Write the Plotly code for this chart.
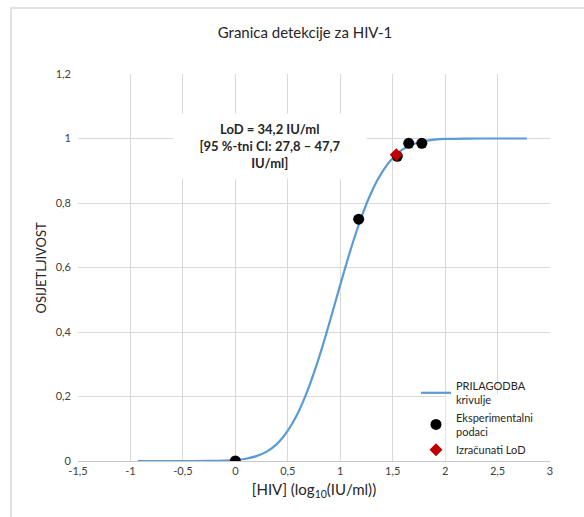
import plotly.graph_objects as go

# Fitted curve
curve_x = [-0.93, -0.5, -0.25, -0.1, 0.0, 0.1, 0.2, 0.3, 0.4, 0.45, 0.5, 0.55, 0.6, 0.65, 0.7,
           0.75, 0.8, 0.85, 0.9, 0.95, 1.0, 1.05, 1.1, 1.15, 1.2, 1.25, 1.3, 1.35, 1.4, 1.45,
           1.5, 1.55, 1.6, 1.65, 1.7, 1.8, 1.9, 2.0, 2.2, 2.5, 2.78]
curve_y = [0.0, 0.0, 0.0003, 0.0012, 0.003, 0.007, 0.015, 0.029, 0.054, 0.072, 0.094, 0.120,
           0.151, 0.187, 0.228, 0.274, 0.323, 0.376, 0.432, 0.489, 0.546, 0.602, 0.656, 0.707,
           0.754, 0.797, 0.835, 0.868, 0.896, 0.920, 0.939, 0.955, 0.967, 0.976, 0.983, 0.992,
           0.9965, 0.9986, 0.9998, 1.0, 1.0]

# Experimental data
exp_x = [0.0, 1.176, 1.544, 1.653, 1.778]
exp_y = [0.0, 0.75, 0.945, 0.985, 0.985]

# Calculated LoD
lod_x = [1.534]
lod_y = [0.95]

x_ticks = [-1.5, -1, -0.5, 0, 0.5, 1, 1.5, 2, 2.5, 3]
x_ticktext = ["-1,5", "-1", "-0,5", "0", "0,5", "1", "1,5", "2", "2,5", "3"]
y_ticks = [0, 0.2, 0.4, 0.6, 0.8, 1.0, 1.2]
y_ticktext = ["0", "0,2", "0,4", "0,6", "0,8", "1", "1,2"]

FONT = "Lato"
GRID = "#D9D9D9"

fig = go.Figure()
fig.add_trace(go.Scatter(x=curve_x, y=curve_y, mode="lines",
                         line=dict(color="#5B9BD5", width=2.2, shape="spline", smoothing=0.8),
                         name="PRILAGODBA<br>krivulje"))
fig.add_trace(go.Scatter(x=exp_x, y=exp_y, mode="markers", marker=dict(color="black", size=11),
                         name="Eksperimentalni<br>podaci"))
fig.add_trace(go.Scatter(x=lod_x, y=lod_y, mode="markers", marker=dict(color="#C00000", size=10, symbol="diamond"),
                         name="Izračunati LoD"))

W, H = 584, 517
L, R, T, B = 78, 550, 74, 461
pw, ph = R - L, B - T

def px2paper_x(px):
    return (px - L) / pw

def px2paper_y(py):
    return (B - py) / ph

shapes = [
    # outer chart border
    dict(type="rect", xref="paper", yref="paper", x0=px2paper_x(11), x1=px2paper_x(600),
         y0=px2paper_y(530), y1=px2paper_y(8), line=dict(color=GRID, width=1.5),
         fillcolor="rgba(0,0,0,0)", layer="below"),
    # legend background
    dict(type="rect", xref="x", yref="y", x0=2.006, x1=2.997, y0=0.003, y1=0.206,
         line=dict(width=0), fillcolor="white", layer="between"),
]

fig.update_layout(
    width=W, height=H,
    margin=dict(l=L, r=W - R, t=T, b=H - B),
    paper_bgcolor="white", plot_bgcolor="white",
    font=dict(family=FONT, color="#404040", size=11),
    title=dict(text="Granica detekcije za HIV-1", x=305 / W, xanchor="center",
               y=1 - 33 / H, yanchor="middle", font=dict(size=15, color="#262626", family=FONT)),
    xaxis=dict(range=[-1.5, 3], tickvals=x_ticks, ticktext=x_ticktext, showgrid=True, gridcolor=GRID,
               gridwidth=1, zeroline=False, showline=True, linecolor="#C8C8C8", linewidth=1,
               ticks="", tickfont=dict(size=11, color="#404040"),
               title=dict(text="[HIV] (log<sub>10</sub>(IU/ml))", font=dict(size=15, color="#262626"), standoff=8)),
    yaxis=dict(range=[0, 1.2], tickvals=y_ticks, ticktext=y_ticktext, showgrid=True, gridcolor=GRID,
               gridwidth=1, zeroline=False, showline=False, ticks="", ticklabelstandoff=6,
               tickfont=dict(size=11, color="#404040")),
    legend=dict(x=px2paper_x(416), y=px2paper_y(372), xanchor="left", yanchor="top",
                bgcolor="rgba(0,0,0,0)", font=dict(size=11, color="#262626"), itemwidth=30,
                tracegroupgap=2),
    showlegend=True,
    shapes=shapes,
    annotations=[
        dict(x=0.335, y=0.977, xref="x", yref="y", showarrow=False,
             text="<b>LoD = 34,2 IU/ml<br>[95 %-tni CI: 27,8 – 47,7<br>IU/ml]</b>",
             font=dict(size=13, color="#262626", family=FONT), align="center",
             bgcolor="white", width=190, height=62),
        dict(x=px2paper_x(40), y=0.5, xref="paper", yref="paper", showarrow=False,
             text="OSIJETLJIVOST", textangle=-90, xanchor="center", yanchor="middle",
             font=dict(size=13, color="#262626", family=FONT)),
    ],
)

fig.write_html("out.html")
